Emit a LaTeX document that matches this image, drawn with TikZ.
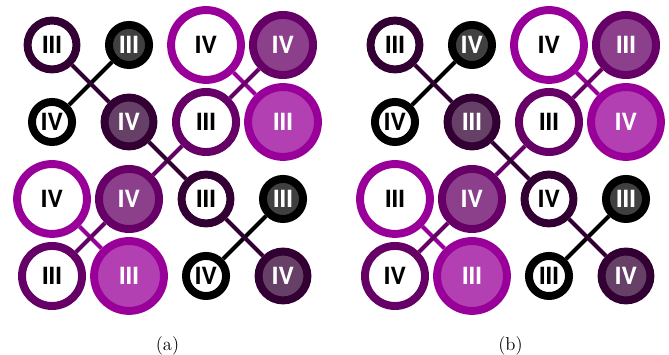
\documentclass[tikz,border=0pt]{standalone}
\usepackage{fontspec}
\setsansfont{TeX Gyre Heros}
\definecolor{plumdark}{HTML}{330033}
\definecolor{plum}{HTML}{660066}
\definecolor{plumlight}{HTML}{990099}
\tikzset{
    disc/.style={circle, inner sep=0pt, line width=4.7pt, font=\sffamily\bfseries\fontsize{14}{14}\selectfont},
    blackring/.style={disc, draw=black, minimum size=23.7pt},
    darkring/.style={disc, draw=plumdark, minimum size=28.9pt},
    midring/.style={disc, draw=plum, minimum size=35.5pt},
    lightring/.style={disc, draw=plumlight, minimum size=41.3pt},
    hollow/.style={fill=white, text=black},
    filled/.style={fill=#1!75!white, text=white},
    wire/.style={line width=2.4pt, draw=#1},
}
\begin{document}
\begin{tikzpicture}
            \useasboundingbox (0, 0) rectangle (13.902, 7.377);

            \node[darkring, hollow] (a11) at (1.081, 6.442) {III};
            \node[blackring, filled=black] (a12) at (2.681, 6.442) {III};
            \node[lightring, hollow] (a13) at (4.281, 6.442) {IV};
            \node[midring, filled=plum] (a14) at (5.881, 6.442) {IV};
            \node[blackring, hollow] (a21) at (1.081, 4.842) {IV};
            \node[darkring, filled=plumdark] (a22) at (2.681, 4.842) {IV};
            \node[midring, hollow] (a23) at (4.281, 4.842) {III};
            \node[lightring, filled=plumlight] (a24) at (5.881, 4.842) {III};
            \node[lightring, hollow] (a31) at (1.081, 3.242) {IV};
            \node[midring, filled=plum] (a32) at (2.681, 3.242) {IV};
            \node[darkring, hollow] (a33) at (4.281, 3.242) {III};
            \node[blackring, filled=black] (a34) at (5.881, 3.242) {III};
            \node[midring, hollow] (a41) at (1.081, 1.642) {III};
            \node[lightring, filled=plumlight] (a42) at (2.681, 1.642) {III};
            \node[blackring, hollow] (a43) at (4.281, 1.642) {IV};
            \node[darkring, filled=plumdark] (a44) at (5.881, 1.642) {IV};

            \node[darkring, hollow] (b11) at (8.208, 6.442) {III};
            \node[blackring, filled=black] (b12) at (9.808, 6.442) {IV};
            \node[lightring, hollow] (b13) at (11.408, 6.442) {IV};
            \node[midring, filled=plum] (b14) at (13.008, 6.442) {III};
            \node[blackring, hollow] (b21) at (8.208, 4.842) {IV};
            \node[darkring, filled=plumdark] (b22) at (9.808, 4.842) {III};
            \node[midring, hollow] (b23) at (11.408, 4.842) {III};
            \node[lightring, filled=plumlight] (b24) at (13.008, 4.842) {IV};
            \node[lightring, hollow] (b31) at (8.208, 3.242) {III};
            \node[midring, filled=plum] (b32) at (9.808, 3.242) {IV};
            \node[darkring, hollow] (b33) at (11.408, 3.242) {IV};
            \node[blackring, filled=black] (b34) at (13.008, 3.242) {III};
            \node[midring, hollow] (b41) at (8.208, 1.642) {IV};
            \node[lightring, filled=plumlight] (b42) at (9.808, 1.642) {III};
            \node[blackring, hollow] (b43) at (11.408, 1.642) {III};
            \node[darkring, filled=plumdark] (b44) at (13.008, 1.642) {IV};

            \draw[wire=black] (a12) -- (a21);
            \draw[wire=black] (a34) -- (a43);
            \draw[wire=plumlight] (a13) -- (a24);
            \draw[wire=plumlight] (a31) -- (a42);
            \draw[wire=plum] (a14) -- (a23);
            \draw[wire=plum] (a23) -- (a32);
            \draw[wire=plum] (a32) -- (a41);
            \draw[wire=plumdark] (a11) -- (a22);
            \draw[wire=plumdark] (a22) -- (a33);
            \draw[wire=plumdark] (a33) -- (a44);

            \draw[wire=black] (b12) -- (b21);
            \draw[wire=black] (b34) -- (b43);
            \draw[wire=plumlight] (b13) -- (b24);
            \draw[wire=plumlight] (b31) -- (b42);
            \draw[wire=plum] (b14) -- (b23);
            \draw[wire=plum] (b23) -- (b32);
            \draw[wire=plum] (b32) -- (b41);
            \draw[wire=plumdark] (b11) -- (b22);
            \draw[wire=plumdark] (b22) -- (b33);
            \draw[wire=plumdark] (b33) -- (b44);

            \node[font=\fontsize{11}{13}\selectfont] (capa) at (3.481, 0.19) {(a)};
            \node[font=\fontsize{11}{13}\selectfont] (capb) at (10.608, 0.19) {(b)};
        \end{tikzpicture}
\end{document}
